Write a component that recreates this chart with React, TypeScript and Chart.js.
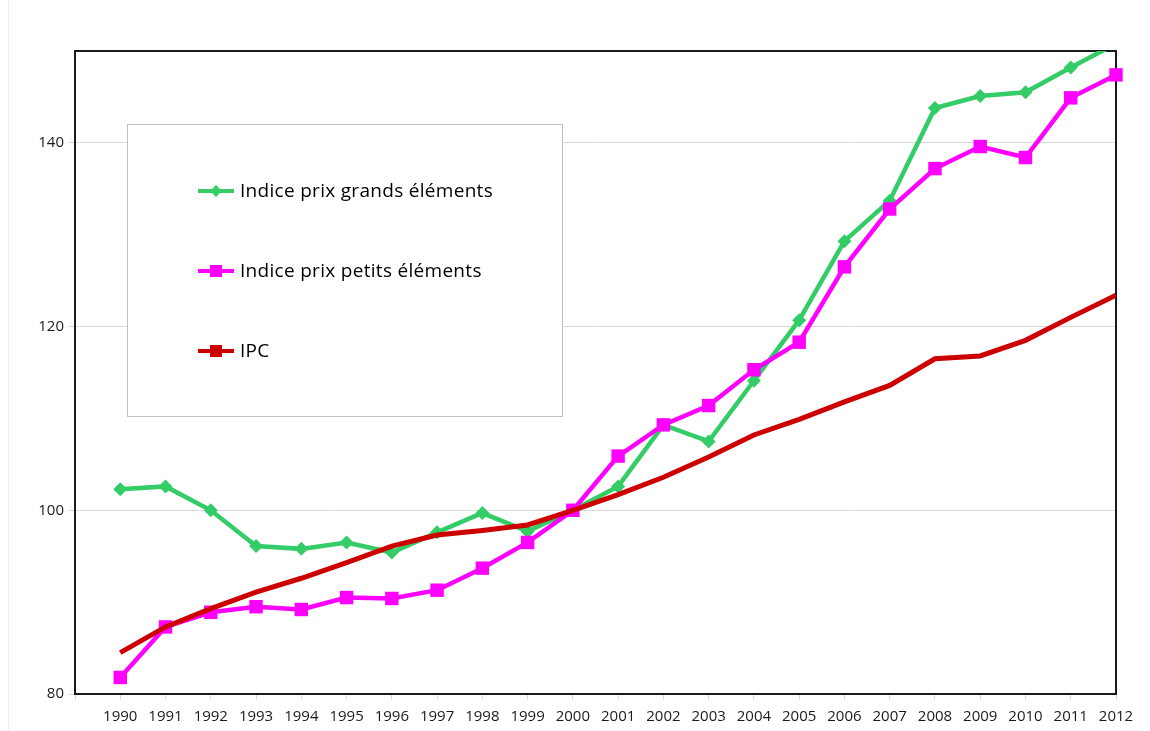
import React, { useEffect, useRef } from "react";
import { Chart, registerables } from "chart.js";

Chart.register(...registerables);

const years = [
  "1990", "1991", "1992", "1993", "1994", "1995", "1996", "1997", "1998", "1999", "2000", "2001",
  "2002", "2003", "2004", "2005", "2006", "2007", "2008", "2009", "2010", "2011", "2012",
];

const grandsElements = [
  102.3, 102.6, 100.0, 96.1, 95.8, 96.5, 95.4, 97.6, 99.7, 97.7, 100.0, 102.6,
  109.3, 107.5, 114.1, 120.7, 129.3, 133.7, 143.8, 145.1, 145.5, 148.2, 150.8,
];

const petitsElements = [
  81.8, 87.3, 88.9, 89.5, 89.2, 90.5, 90.4, 91.3, 93.7, 96.5, 100.0, 105.9,
  109.3, 111.4, 115.3, 118.3, 126.5, 132.8, 137.2, 139.6, 138.4, 144.9, 147.4,
];

const ipc = [
  84.5, 87.3, 89.3, 91.1, 92.6, 94.3, 96.1, 97.3, 97.8, 98.4, 100.0, 101.7,
  103.6, 105.8, 108.2, 109.9, 111.8, 113.6, 116.5, 116.8, 118.5, 121.0, 123.4,
];

const seriesLabels = ["Indice prix grands éléments", "Indice prix petits éléments", "IPC"];
const yTicks = [80, 100, 120, 140];

const GREEN = "#33cc66";
const PINK = "#ff00ff";
const RED = "#cc0000";
const FONT = "'Open Sans', 'Liberation Sans', sans-serif";

const framePlugin = {
  id: "frame",
  beforeDatasetsDraw(chart: any) {
    const { ctx, chartArea } = chart;
    ctx.save();
    ctx.strokeStyle = "#1a1a1a";
    ctx.lineWidth = 2;
    ctx.strokeRect(chartArea.left, chartArea.top, chartArea.right - chartArea.left, chartArea.bottom - chartArea.top);
    ctx.restore();
  },
  afterDraw(chart: any) {
    const { ctx } = chart;
    ctx.save();
    // faint page edge
    ctx.strokeStyle = "#ececec";
    ctx.lineWidth = 1;
    ctx.beginPath();
    ctx.moveTo(8.5, 0);
    ctx.lineTo(8.5, chart.height);
    ctx.stroke();

    // legend box
    const bx = 127, by = 124, bw = 435, bh = 292;
    ctx.fillStyle = "#ffffff";
    ctx.fillRect(bx, by, bw, bh);
    ctx.strokeStyle = "#bfbfbf";
    ctx.lineWidth = 1;
    ctx.strokeRect(bx + 0.5, by + 0.5, bw, bh);

    const rows = [191, 271, 351];
    chart.data.datasets.forEach((ds: any, i: number) => {
      const y = rows[i];
      const color = ds.borderColor;
      ctx.strokeStyle = color;
      ctx.lineWidth = 4;
      ctx.beginPath();
      ctx.moveTo(198, y);
      ctx.lineTo(234, y);
      ctx.stroke();
      ctx.fillStyle = color;
      const cx = 216;
      if (i === 0) {
        ctx.beginPath();
        ctx.moveTo(cx - 6, y);
        ctx.lineTo(cx, y - 6);
        ctx.lineTo(cx + 6, y);
        ctx.lineTo(cx, y + 6);
        ctx.closePath();
        ctx.fill();
      } else {
        ctx.fillRect(cx - 6, y - 6, 12, 12);
      }
      ctx.fillStyle = "#000000";
      ctx.font = `19px ${FONT}`;
      (ctx as any).letterSpacing = "0.3px";
      ctx.textBaseline = "middle";
      ctx.textAlign = "left";
      ctx.fillText(ds.label, 240, y + 1);
    });
    ctx.restore();
  },
};

export default function App() {
  const canvasRef = useRef<HTMLCanvasElement | null>(null);

  useEffect(() => {
    document.body.style.margin = "0";
    const canvas = canvasRef.current;
    if (!canvas) return;
    const labels = ["", ...years];
    const chart = new Chart(canvas, {
      type: "line",
      data: {
        labels,
        datasets: [
          {
            label: seriesLabels[0],
            data: [null, ...grandsElements],
            borderColor: GREEN,
            backgroundColor: GREEN,
            borderWidth: 4.5,
            pointStyle: "rectRot",
            pointRadius: 7,
            pointHoverRadius: 7,
            pointBorderWidth: 0,
            tension: 0,
            order: 3,
            clip: 0,
          },
          {
            label: seriesLabels[1],
            data: [null, ...petitsElements],
            borderColor: PINK,
            backgroundColor: PINK,
            borderWidth: 4.5,
            pointStyle: "rect",
            pointRadius: 9.5,
            pointHoverRadius: 9.5,
            pointBorderWidth: 0,
            tension: 0,
            order: 2,
            clip: 10,
          },
          {
            label: seriesLabels[2],
            data: [null, ...ipc],
            borderColor: RED,
            backgroundColor: RED,
            borderWidth: 5,
            pointRadius: 0,
            pointHoverRadius: 0,
            tension: 0,
            order: 1,
            clip: 0,
          },
        ],
      } as any,
      options: {
        animation: false,
        responsive: false,
        maintainAspectRatio: false,
        spanGaps: false,
        layout: { padding: { left: 0, right: 34, top: 51, bottom: 0 } },
        plugins: {
          legend: { display: false },
          tooltip: { enabled: false },
        },
        scales: {
          x: {
            type: "category",
            offset: false,
            grid: {
              display: true,
              drawOnChartArea: false,
              drawTicks: true,
              tickLength: 6,
              color: "#d9d9d9",
            },
            border: { display: false },
            ticks: {
              autoSkip: false,
              maxRotation: 0,
              minRotation: 0,
              padding: 8,
              color: "#1a1a1a",
              font: { family: FONT, size: 15 },
            },
            afterFit(scale: any) {
              scale.height = 37;
            },
          },
          y: {
            type: "linear",
            min: 80,
            max: 150,
            afterBuildTicks(scale: any) {
              scale.ticks = yTicks.map((v) => ({ value: v }));
            },
            grid: {
              display: true,
              drawTicks: true,
              tickLength: 6,
              color: "#d9d9d9",
              lineWidth: 1,
            },
            border: { display: false },
            ticks: {
              padding: 5,
              color: "#1a1a1a",
              font: { family: FONT, size: 15 },
            },
            afterFit(scale: any) {
              scale.width = 75;
            },
          },
        },
      } as any,
      plugins: [framePlugin],
    });
    return () => chart.destroy();
  }, []);

  return (
    <div style={{ position: "absolute", left: 0, top: 0, width: 1150, height: 731, background: "#ffffff" }}>
      <canvas ref={canvasRef} width={1150} height={731} />
    </div>
  );
}
